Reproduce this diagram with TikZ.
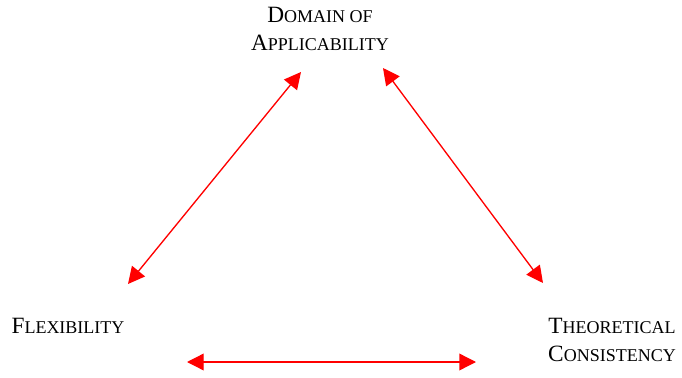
\documentclass[tikz,border=0pt]{standalone}
\usepackage{fontspec}
\setmainfont{Liberation Serif}
\usetikzlibrary{arrows.meta}
% big capital followed by smaller capitals
\newcommand{\capword}[2]{{\fontsize{17.5}{21}\selectfont #1}{\fontsize{13.5}{21}\selectfont\MakeUppercase{#2}}}
\tikzset{
  label/.style ={align=center, inner sep=0pt, font=\fontsize{17.5}{21}\selectfont},
  link/.style  ={{Triangle[length=12.5pt,width=12.5pt]}-{Triangle[length=12.5pt,width=12.5pt]},
                 draw=red, line width=1pt},
}
\begin{document}
\begin{tikzpicture}[x=0.75pt, y=-0.75pt]
  \useasboundingbox (0,0) rectangle (682,378);
  \node[label] (domain) at (320,29) {\capword{D}{omain of}\\\capword{A}{pplicability}};
  \node[label] (flex)   at (68,326) {\capword{F}{lexibility}};
  \node[label] (theory) at (612,340) {\capword{T}{heoretical}\\\capword{C}{onsistency}};
  % arrow ends
  \coordinate (domL) at (301,72);
  \coordinate (domR) at (383,68);
  \coordinate (flexT) at (128,284);
  \coordinate (theoT) at (543,283);
  \coordinate (flexB) at (187,362);
  \coordinate (theoB) at (476,362);
  \draw[link] (domL) -- (flexT);
  \draw[link] (domR) -- (theoT);
  \draw[link] (flexB) -- (theoB);
\end{tikzpicture}
\end{document}
